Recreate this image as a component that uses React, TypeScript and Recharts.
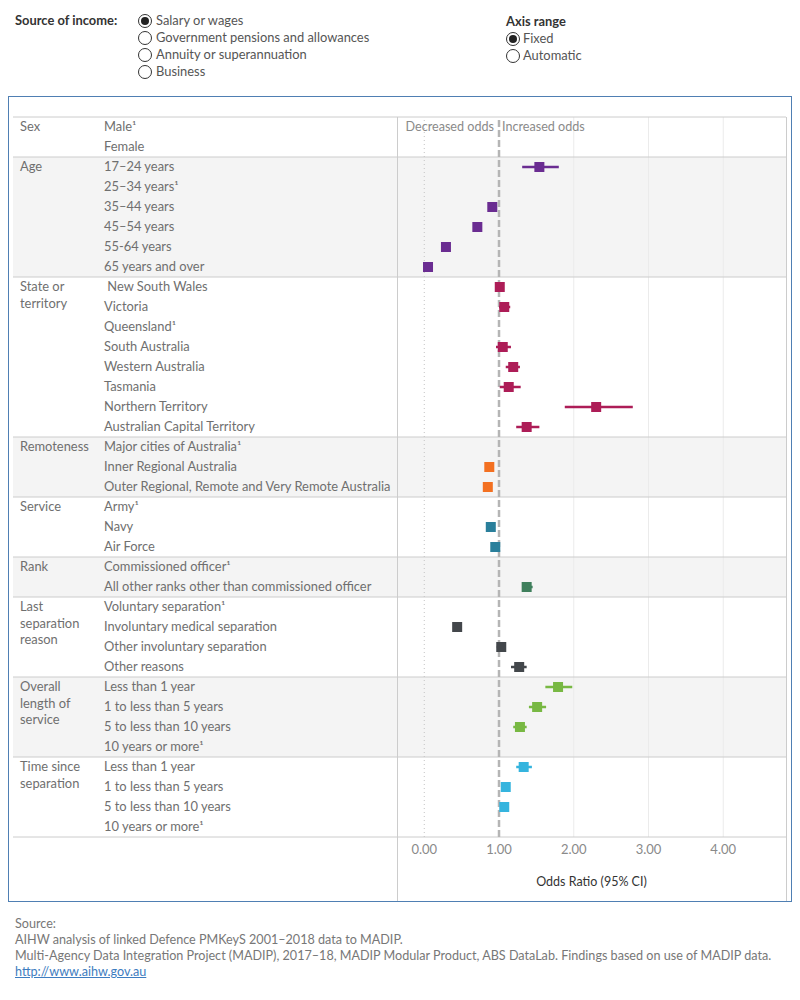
import React from "react";
import {
  ErrorBar,
  ReferenceArea,
  ReferenceLine,
  Scatter,
  ScatterChart,
  XAxis,
  YAxis,
} from "recharts";

// groups, in display order
const groupLines = [
  ["Sex"],
  ["Age"],
  ["State or", "territory"],
  ["Remoteness"],
  ["Service"],
  ["Rank"],
  ["Last", "separation", "reason"],
  ["Overall", "length of", "service"],
  ["Time since", "separation"],
];
const groupColors = [
  "#6a2c91",
  "#6a2c91",
  "#ad1d57",
  "#f37021",
  "#2a7f9b",
  "#3f7f5c",
  "#43474b",
  "#78b843",
  "#35b4de",
];

const sexLabels = ["Male¹", "Female"];
const sexOR = [null, null];
const sexLo = [null, null];
const sexHi = [null, null];

const ageLabels = ["17–24 years", "25–34 years¹", "35–44 years", "45–54 years", "55-64 years", "65 years and over"];
const ageOR = [1.54, null, 0.91, 0.71, 0.29, 0.05];
const ageLo = [1.31, null, 0.89, 0.69, 0.27, 0.03];
const ageHi = [1.8, null, 0.93, 0.73, 0.31, 0.07];

const stateLabels = [
  " New South Wales",
  "Victoria",
  "Queensland¹",
  "South Australia",
  "Western Australia",
  "Tasmania",
  "Northern Territory",
  "Australian Capital Territory",
];
const stateOR = [1.01, 1.07, null, 1.05, 1.19, 1.13, 2.3, 1.37];
const stateLo = [0.98, 1.0, null, 0.96, 1.09, 1.01, 1.88, 1.23];
const stateHi = [1.05, 1.15, null, 1.16, 1.28, 1.29, 2.79, 1.54];

const remoteLabels = ["Major cities of Australia¹", "Inner Regional Australia", "Outer Regional, Remote and Very Remote Australia"];
const remoteOR = [null, 0.87, 0.85];
const remoteLo = [null, 0.84, 0.82];
const remoteHi = [null, 0.9, 0.89];

const serviceLabels = ["Army¹", "Navy", "Air Force"];
const serviceOR = [null, 0.89, 0.95];
const serviceLo = [null, 0.86, 0.9];
const serviceHi = [null, 0.92, 1.01];

const rankLabels = ["Commissioned officer¹", "All other ranks other than commissioned officer"];
const rankOR = [null, 1.37];
const rankLo = [null, 1.31];
const rankHi = [null, 1.45];

const sepLabels = ["Voluntary separation¹", "Involuntary medical separation", "Other involuntary separation", "Other reasons"];
const sepOR = [null, 0.44, 1.03, 1.27];
const sepLo = [null, 0.41, 0.97, 1.16];
const sepHi = [null, 0.47, 1.08, 1.37];

const lengthLabels = ["Less than 1 year", "1 to less than 5 years", "5 to less than 10 years", "10 years or more¹"];
const lengthOR = [1.79, 1.51, 1.28, null];
const lengthLo = [1.62, 1.4, 1.19, null];
const lengthHi = [1.98, 1.63, 1.37, null];

const sinceLabels = ["Less than 1 year", "1 to less than 5 years", "5 to less than 10 years", "10 years or more¹"];
const sinceOR = [1.33, 1.09, 1.07, null];
const sinceLo = [1.23, 1.05, 1.03, null];
const sinceHi = [1.44, 1.13, 1.11, null];

const xTicks = [0, 1, 2, 3, 4];

const incomeOptions = ["Salary or wages", "Government pensions and allowances", "Annuity or superannuation", "Business"];
const axisOptions = ["Fixed", "Automatic"];

type Num = number | null;
const groupData: [string[], Num[], Num[], Num[]][] = [
  [sexLabels, sexOR, sexLo, sexHi],
  [ageLabels, ageOR, ageLo, ageHi],
  [stateLabels, stateOR, stateLo, stateHi],
  [remoteLabels, remoteOR, remoteLo, remoteHi],
  [serviceLabels, serviceOR, serviceLo, serviceHi],
  [rankLabels, rankOR, rankLo, rankHi],
  [sepLabels, sepOR, sepLo, sepHi],
  [lengthLabels, lengthOR, lengthLo, lengthHi],
  [sinceLabels, sinceOR, sinceLo, sinceHi],
];

type Row = { label: string; group: number; first: boolean; size: number };
const rows: Row[] = [];
const groupStart: number[] = [];
const series: { x: number; y: number; err: [number, number] }[][] = [];
groupData.forEach(([labels, or, lo, hi], g) => {
  groupStart.push(rows.length);
  const pts: { x: number; y: number; err: [number, number] }[] = [];
  labels.forEach((label, i) => {
    const idx = rows.length;
    rows.push({ label, group: g, first: i === 0, size: labels.length });
    const v = or[i];
    if (v != null) {
      pts.push({ x: v, y: idx + 0.5, err: [v - (lo[i] as number), (hi[i] as number) - v] });
    }
  });
  series.push(pts);
});
const totalRows = rows.length;
groupStart.push(totalRows);

const ROW_H = 20;
const FONT = "Lato, 'Noto Sans', sans-serif";
const LABEL = "#6f6f6f";
const FS = 12.9;

function RowTick(props: any) {
  const { y, payload } = props;
  const idx = Math.floor(payload.value);
  const row = rows[idx];
  if (!row) return null;
  const top = y - ROW_H / 2;
  return (
    <g>
      {row.first && row.group % 2 === 1 && (
        <rect x={4} y={top} width={384} height={row.size * ROW_H} fill="#f4f4f4" />
      )}
      {row.first && <line x1={4} x2={388} y1={top} y2={top} stroke="#cccccc" />}
      {idx === totalRows - 1 && <line x1={4} x2={388} y1={top + ROW_H} y2={top + ROW_H} stroke="#cccccc" />}
      {row.first &&
        groupLines[row.group].map((t, k) => (
          <text key={k} x={11} y={y + 4 + k * 16.5} fill={LABEL} fontSize={FS} fontFamily={FONT}>
            {t}
          </text>
        ))}
      <text x={95} y={y + 4} fill={LABEL} fontSize={FS} fontFamily={FONT} style={{ whiteSpace: "pre" }}>
        {row.label}
      </text>
    </g>
  );
}

function HeaderLabel(props: any) {
  const { viewBox } = props;
  if (!viewBox) return null;
  const y = viewBox.y + 14;
  return (
    <g fontFamily={FONT} fontSize={12.6} fill="#8a8a8a">
      <text x={viewBox.x - 5} y={y} textAnchor="end">
        Decreased odds
      </text>
      <text x={viewBox.x + 3} y={y} textAnchor="start">
        Increased odds
      </text>
    </g>
  );
}

function Radio({ cx, cy, on }: { cx: number; cy: number; on: boolean }) {
  return (
    <div
      style={{
        position: "absolute",
        left: cx - 7,
        top: cy - 7,
        width: 12,
        height: 12,
        borderRadius: "50%",
        border: "1px solid #333",
        background: "#fff",
      }}
    >
      {on && (
        <div
          style={{
            position: "absolute",
            left: 2,
            top: 2,
            width: 8,
            height: 8,
            borderRadius: "50%",
            background: "#222",
          }}
        />
      )}
    </div>
  );
}

export default function App() {
  const txt = { position: "absolute" as const, fontFamily: FONT, fontSize: 12.9, lineHeight: "14px", whiteSpace: "nowrap" as const };
  return (
    <div style={{ position: "relative", width: 784, height: 984, fontFamily: FONT }}>
      {/* controls (page coords minus 8) */}
      <div style={{ ...txt, left: 7, top: 5, color: "#333", fontWeight: 700 }}>Source of income:</div>
      {incomeOptions.map((o, i) => (
        <React.Fragment key={o}>
          <Radio cx={137} cy={13 + i * 17} on={i === 0} />
          <div style={{ ...txt, left: 148, top: 5 + i * 17, color: "#555" }}>{o}</div>
        </React.Fragment>
      ))}
      <div style={{ ...txt, left: 498, top: 6, color: "#333", fontWeight: 700 }}>Axis range</div>
      {axisOptions.map((o, i) => (
        <React.Fragment key={o}>
          <Radio cx={505} cy={31 + i * 17} on={i === 0} />
          <div style={{ ...txt, left: 515, top: 23 + i * 17, color: "#555" }}>{o}</div>
        </React.Fragment>
      ))}

      {/* framed chart */}
      <div
        style={{
          position: "absolute",
          left: 0,
          top: 88,
          width: 782,
          height: 804,
          border: "1px solid #4f7fb3",
        }}
      >
        <ScatterChart width={782} height={804} margin={{ top: 20, right: 5, bottom: 4, left: 4 }}>
          <XAxis
            type="number"
            dataKey="x"
            domain={[-0.365, 4.84]}
            ticks={xTicks}
            allowDataOverflow
            axisLine={false}
            tickLine={false}
            height={60}
            tick={{ fill: "#8a8a8a", fontSize: 13, fontFamily: FONT }}
            tickFormatter={(v: number) => v.toFixed(2)}
            label={{
              value: "Odds Ratio (95% CI)",
              position: "insideBottom",
              offset: 11,
              fill: "#333",
              fontSize: 12.5,
              fontFamily: FONT,
            }}
          />
          <YAxis
            type="number"
            dataKey="y"
            domain={[0, totalRows]}
            reversed
            ticks={rows.map((_, i) => i + 0.5)}
            interval={0}
            width={384}
            axisLine={false}
            tickLine={false}
            tick={<RowTick />}
          />
          {groupLines.map((_, g) =>
            g % 2 === 1 ? (
              <ReferenceArea
                key={"a" + g}
                y1={groupStart[g]}
                y2={groupStart[g + 1]}
                fill="#f4f4f4"
                fillOpacity={1}
                stroke="none"
              />
            ) : null
          )}
          {[2, 3, 4].map((v) => (
            <ReferenceLine key={"g" + v} x={v} stroke="#ebebeb" />
          ))}
          {groupStart.map((s) => (
            <ReferenceLine key={"s" + s} y={s} stroke="#cccccc" />
          ))}
          <ReferenceLine x={0} stroke="#c4c4c4" strokeDasharray="1 3" />
          <ReferenceLine x={1} stroke="#b5b5b5" strokeWidth={2.5} strokeDasharray="7 3" label={<HeaderLabel />} />
          {series.map((pts, g) =>
            pts.length ? (
              <Scatter
                key={"p" + g}
                data={pts}
                isAnimationActive={false}
                shape={(p: any) => (
                  <rect x={p.cx - 5} y={p.cy - 5} width={10} height={10} fill={groupColors[g]} />
                )}
              >
                <ErrorBar
                  dataKey="err"
                  direction="x"
                  width={0}
                  stroke={groupColors[g]}
                  strokeWidth={2.5}
                  isAnimationActive={false}
                />
              </Scatter>
            ) : null
          )}
        </ScatterChart>
        {/* column dividers */}
        <div style={{ position: "absolute", left: 388, top: 20, width: 1, height: 784, background: "#cccccc" }} />
        <div style={{ position: "absolute", left: 777, top: 20, width: 1, height: 784, background: "#cccccc" }} />
      </div>

      {/* footer */}
      <div style={{ ...txt, fontSize: 12.6, left: 7, top: 908, color: "#777", lineHeight: "16px" }}>
        <div>Source:</div>
        <div>AIHW analysis of linked Defence PMKeyS 2001–2018 data to MADIP.</div>
        <div>
          Multi-Agency Data Integration Project (MADIP), 2017–18, MADIP Modular Product, ABS DataLab. Findings based on
          use of MADIP data.
        </div>
        <div style={{ color: "#3d7cc0", textDecoration: "underline" }}>http://www.aihw.gov.au</div>
      </div>
    </div>
  );
}
